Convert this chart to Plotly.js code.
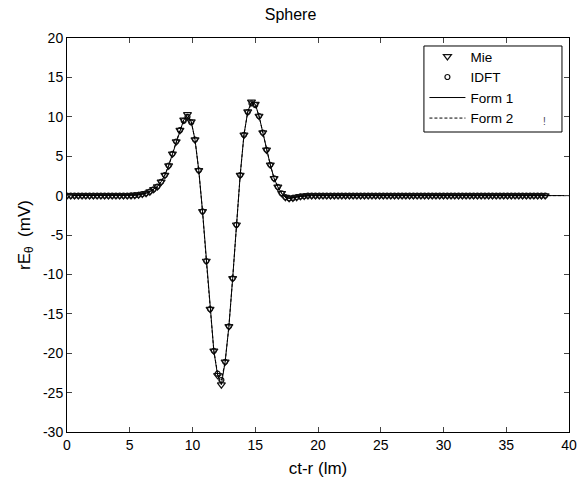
<!DOCTYPE html>
<html>
<head>
<meta charset="utf-8">
<script src="https://cdn.plot.ly/plotly-3.0.1.min.js"></script>
<style>html,body{margin:0;padding:0;background:#fff;}#chart{width:581px;height:484px;}</style>
</head>
<body>
<div id="chart"></div>
<script>
// sample positions ct-r (lm)
var mieX = [0, 0.3, 0.6, 0.9, 1.2, 1.5, 1.8, 2.1, 2.4, 2.7, 3, 3.3, 3.6, 3.9, 4.2, 4.5, 4.8, 5.1, 5.4, 5.7,
  6, 6.3, 6.6, 6.9, 7.2, 7.5, 7.8, 8.1, 8.4, 8.7, 9, 9.3, 9.6, 9.9, 10.2, 10.5, 10.8, 11.1, 11.4, 11.7,
  12, 12.3, 12.6, 12.9, 13.2, 13.5, 13.8, 14.1, 14.4, 14.7, 15, 15.3, 15.6, 15.9, 16.2, 16.5, 16.8, 17.1, 17.4, 17.7,
  18, 18.3, 18.6, 18.9, 19.2, 19.5, 19.8, 20.1, 20.4, 20.7, 21, 21.3, 21.6, 21.9, 22.2, 22.5, 22.8, 23.1, 23.4, 23.7,
  24, 24.3, 24.6, 24.9, 25.2, 25.5, 25.8, 26.1, 26.4, 26.7, 27, 27.3, 27.6, 27.9, 28.2, 28.5, 28.8, 29.1, 29.4, 29.7,
  30, 30.3, 30.6, 30.9, 31.2, 31.5, 31.8, 32.1, 32.4, 32.7, 33, 33.3, 33.6, 33.9, 34.2, 34.5, 34.8, 35.1, 35.4, 35.7,
  36, 36.3, 36.6, 36.9, 37.2, 37.5, 37.8, 38.1];

// Mie result rE_theta (mV)
var mieY = [0, 0, 0, 0, 0, 0, 0, 0, 0, 0, 0, 0, 0, 0, 0, 0, 0, 0.02, 0.05, 0.1,
  0.2, 0.3, 0.5, 0.8, 1.15, 1.75, 2.6, 3.8, 5.3, 6.85, 8.3, 9.6, 10.3, 9.4, 7.1, 3.2, -2.0, -8.3, -14.4, -19.7,
  -22.8, -24.0, -21.1, -16.6, -10.5, -3.7, 2.6, 7.7, 10.65, 11.9, 11.6, 10.1, 8.0, 5.8, 3.9, 2.2, 1.1, 0.3, -0.2, -0.35,
  -0.3, -0.2, -0.1, -0.05, 0, 0, 0, 0, 0, 0, 0, 0, 0, 0, 0, 0, 0, 0, 0, 0,
  0, 0, 0, 0, 0, 0, 0, 0, 0, 0, 0, 0, 0, 0, 0, 0, 0, 0, 0, 0,
  0, 0, 0, 0, 0, 0, 0, 0, 0, 0, 0, 0, 0, 0, 0, 0, 0, 0, 0, 0,
  0, 0, 0, 0, 0, 0, 0, 0];

// IDFT result rE_theta (mV)
var idftY = [0, 0, 0, 0, 0, 0, 0, 0, 0, 0, 0, 0, 0, 0, 0, 0, 0, 0.02, 0.05, 0.1,
  0.2, 0.3, 0.5, 0.8, 1.15, 1.75, 2.6, 3.8, 5.3, 6.85, 8.3, 9.5, 10.0, 9.3, 7.1, 3.2, -2.0, -8.3, -14.4, -19.7,
  -22.6, -23.4, -21.1, -16.6, -10.5, -3.7, 2.6, 7.7, 10.6, 11.7, 11.5, 10.1, 8.0, 5.8, 3.9, 2.2, 1.1, 0.3, -0.2, -0.35,
  -0.3, -0.2, -0.1, -0.05, 0, 0, 0, 0, 0, 0, 0, 0, 0, 0, 0, 0, 0, 0, 0, 0,
  0, 0, 0, 0, 0, 0, 0, 0, 0, 0, 0, 0, 0, 0, 0, 0, 0, 0, 0, 0,
  0, 0, 0, 0, 0, 0, 0, 0, 0, 0, 0, 0, 0, 0, 0, 0, 0, 0, 0, 0,
  0, 0, 0, 0, 0, 0, 0, 0];

// closed-form curves extend to the end of the axis
var formEndX = [40];
var formEndY = [0];
var form1X = mieX.concat(formEndX);
var form1Y = mieY.concat(formEndY);
var form2X = mieX.concat(formEndX);
var form2Y = idftY.concat(formEndY);

var xTicks = [0, 5, 10, 15, 20, 25, 30, 35, 40];
var yTicks = [20, 15, 10, 5, 0, -5, -10, -15, -20, -25, -30];

var FONT = 'Liberation Sans, Arial, sans-serif';

var traces = [
  {x: mieX, y: mieY, name: 'Mie', type: 'scatter', mode: 'markers',
   marker: {symbol: 'triangle-down-open', size: 7, color: '#111', line: {width: 1.2, color: '#111'}}},
  {x: mieX, y: idftY, name: 'IDFT', type: 'scatter', mode: 'markers',
   marker: {symbol: 'circle-open', size: 5, color: '#111', line: {width: 1.2, color: '#111'}}},
  {x: form1X, y: form1Y, name: 'Form 1', type: 'scatter', mode: 'lines',
   line: {color: '#000', width: 1}},
  {x: form2X, y: form2Y, name: 'Form 2', type: 'scatter', mode: 'lines',
   line: {color: '#000', width: 1, dash: '3px,2px'}}
];

var layout = {
  width: 581, height: 484,
  margin: {l: 67, r: 12, t: 38, b: 52},
  paper_bgcolor: '#fff', plot_bgcolor: '#fff',
  font: {family: FONT, color: '#000', size: 14},
  title: {text: 'Sphere', font: {family: FONT, size: 16, color: '#000'}, x: 0.5, xanchor: 'center', y: 0.97, yanchor: 'middle'},
  showlegend: true,
  legend: {x: 0.712, y: 0.992, xanchor: 'left', yanchor: 'top', bgcolor: 'rgba(0,0,0,0)',
    borderwidth: 0, font: {family: FONT, size: 13.5, color: '#000'},
    itemwidth: 36, tracegroupgap: 0},
  shapes: [{type: 'rect', xref: 'paper', yref: 'paper', x0: 0.711, x1: 0.986, y0: 0.7614, y1: 0.9797,
    layer: 'above', fillcolor: '#fff', line: {color: '#000', width: 1}}],
  annotations: [{text: '!', xref: 'paper', yref: 'paper', x: 0.952, y: 0.789, xanchor: 'center', yanchor: 'middle',
    showarrow: false, font: {family: FONT, size: 10, color: '#445'}}],
  xaxis: {range: [0, 40], tickvals: xTicks, ticktext: xTicks.map(String), ticks: 'inside', ticklen: 5,
    showline: true, linecolor: '#000', linewidth: 1, mirror: 'ticks', showgrid: false, zeroline: false,
    tickfont: {family: FONT, size: 14}, title: {text: 'ct-r (lm)', font: {family: FONT, size: 17}, standoff: 10}},
  yaxis: {range: [-30, 20], tickvals: yTicks, ticktext: yTicks.map(String), ticks: 'inside', ticklen: 5,
    showline: true, linecolor: '#000', linewidth: 1, mirror: 'ticks', showgrid: false, zeroline: false,
    tickfont: {family: FONT, size: 14}, title: {text: 'rE<sub>θ</sub>  (mV)', font: {family: FONT, size: 17}, standoff: 8}}
};

Plotly.newPlot('chart', traces, layout, {staticPlot: true, displayModeBar: false});
</script>
</body>
</html>
